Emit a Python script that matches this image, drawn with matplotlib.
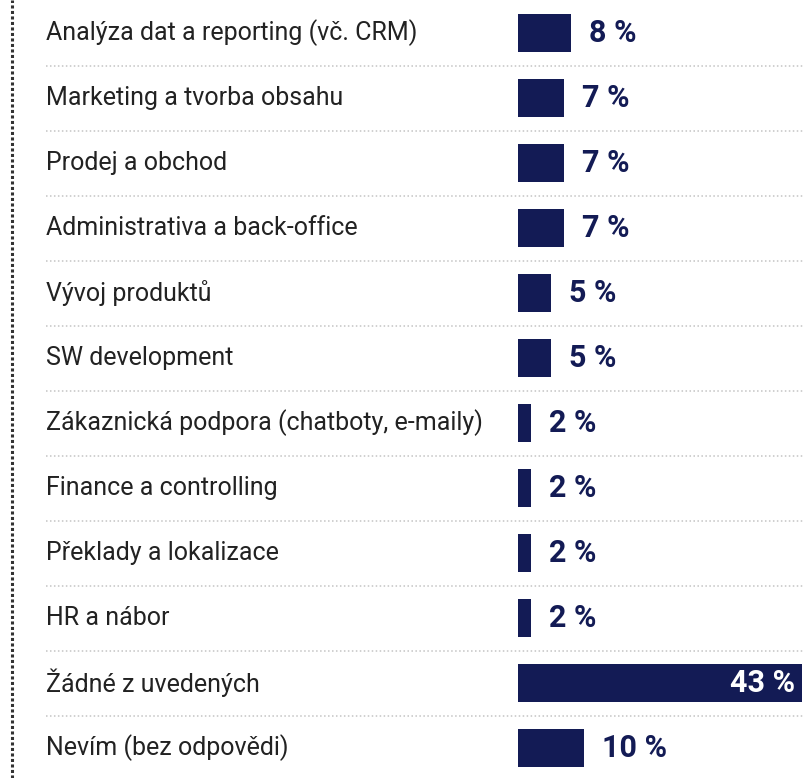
import matplotlib
matplotlib.use("Agg")
import matplotlib.pyplot as plt
from matplotlib.transforms import blended_transform_factory

categories = [
    "Analýza dat a reporting (vč. CRM)",
    "Marketing a tvorba obsahu",
    "Prodej a obchod",
    "Administrativa a back-office",
    "Vývoj produktů",
    "SW development",
    "Zákaznická podpora (chatboty, e-maily)",
    "Finance a controlling",
    "Překlady a lokalizace",
    "HR a nábor",
    "Žádné z uvedených",
    "Nevím (bez odpovědi)",
]
values = [8, 7, 7, 7, 5, 5, 2, 2, 2, 2, 43, 10]
value_labels = ["8 %", "7 %", "7 %", "7 %", "5 %", "5 %", "2 %", "2 %", "2 %", "2 %", "43 %", "10 %"]

NAVY = "#131b55"
W, H = 804, 778

fig = plt.figure(figsize=(W / 100, H / 100), dpi=100)
fig.patch.set_facecolor("white")

# bar axes: starts at x=518px, row centers at 33 + 65*i px
ax = fig.add_axes([518 / W, 0, 1 - 518 / W, 1])
ax.set_xlim(0, (W - 518) / 6.6)
ax.set_ylim((H - 33) / 65, -33 / 65)
ax.axis("off")

y = list(range(len(categories)))
ax.barh(y, values, height=0.57, color=NAVY, edgecolor="none")

px = (W - 518) / 6.6 / (W - 518)  # data units per pixel on x
for yi, v, lab in zip(y, values, value_labels):
    if v == max(values):
        ax.text(v - 7 * px, yi, lab, ha="right", va="center", color="white",
                fontsize=22, fontweight="bold", family="Roboto")
    else:
        ax.text(v + 18 * px, yi, lab, ha="left", va="center", color=NAVY,
                fontsize=22, fontweight="bold", family="Roboto")

# category labels
tr = blended_transform_factory(fig.transFigure, ax.transData)
for yi, c in zip(y, categories):
    ax.text(46 / W, yi, c, transform=tr, ha="left", va="center",
            fontsize=18, color="#222222", family="Roboto", clip_on=False)

# dotted separators between rows
for yi in y[:-1]:
    ax.plot([46 / W, 1], [yi + 0.5, yi + 0.5], transform=tr, color="#c4c4c4",
            lw=1.1, ls=(0, (1, 1.6)), clip_on=False)

# dotted vertical rule on the left
fig.add_artist(plt.Line2D([12 / W, 12 / W], [0, 1], transform=fig.transFigure,
                          color="#333333", lw=2.2, ls=(0, (1, 0.8))))

fig.savefig("out.png", dpi=100, facecolor="white")
